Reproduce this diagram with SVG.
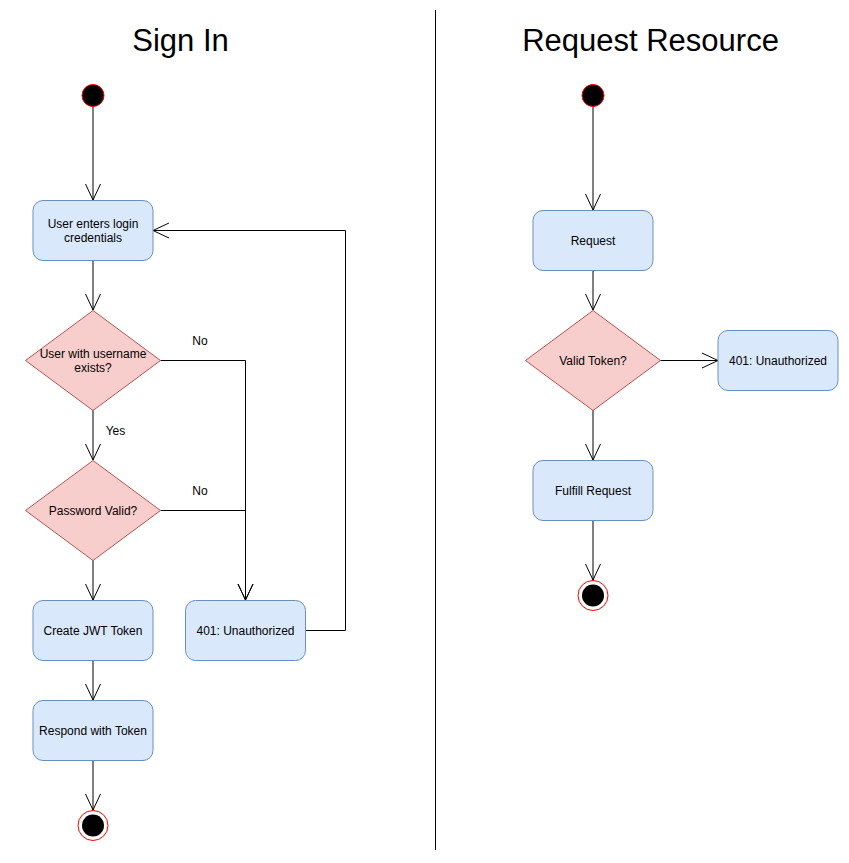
<svg xmlns="http://www.w3.org/2000/svg" width="849" height="863" viewBox="0 0 849 863">
<style>
.t{font-family:"Liberation Sans",Arial,sans-serif;font-size:12px;fill:#000;text-anchor:middle}
.title{font-family:"Liberation Sans",Arial,sans-serif;font-size:31px;fill:#000;text-anchor:middle}
.box{fill:#dae8fc;stroke:#6c8ebf;stroke-width:1}
.dia{fill:#f8cecc;stroke:#b85450;stroke-width:1}
.start{fill:#000;stroke:#ff0000;stroke-width:1}
.endo{fill:#fff;stroke:#ff0000;stroke-width:1}
.c{fill:none;stroke:#000;stroke-width:1}
.a{marker-end:url(#arr)}
</style>
<defs>
<marker id="arr" markerUnits="userSpaceOnUse" markerWidth="20" markerHeight="20" refX="16" refY="8" orient="auto" viewBox="0 0 20 16" overflow="visible">
<path d="M0,0.5 L16,8 L0,15.5" fill="none" stroke="#000" stroke-width="1"/>
</marker>
</defs>
<rect width="849" height="863" fill="#fff"/>
<line x1="435.5" y1="10" x2="435.5" y2="850" stroke="#000" stroke-width="1"/>
<text class="title" x="180.5" y="51">Sign In</text>
<text class="title" x="650.5" y="51">Request Resource</text>

<g id="connectors">
<path class="c a" d="M93,106 V200"/>
<path class="c a" d="M93,260 V310"/>
<path class="c a" d="M93,410 V460"/>
<path class="c a" d="M93,560 V600"/>
<path class="c a" d="M93,660 V700"/>
<path class="c a" d="M93,760 V810"/>
<path class="c a" d="M160.5,360.5 H245.5 V600"/>
<path class="c a" d="M160.5,510.5 H245.5 V600"/>
<path class="c a" d="M305,630.5 H345.5 V230.5 H153"/>
<text class="t" x="200" y="345">No</text>
<text class="t" x="115.5" y="435">Yes</text>
<text class="t" x="200" y="495">No</text>
<path class="c a" d="M593,106 V210"/>
<path class="c a" d="M593,270 V310"/>
<path class="c a" d="M660,360.5 H718"/>
<path class="c a" d="M593,410 V460"/>
<path class="c a" d="M593,520 V580"/>
</g>

<g id="start1"><circle class="start" cx="93" cy="95.5" r="11"/></g>
<g id="login"><rect class="box" x="33" y="200.5" width="120" height="60" rx="10"/><text class="t" x="93" y="228">User enters login</text><text class="t" x="93" y="242">credentials</text></g>
<g id="userExists"><polygon class="dia" points="93,310.5 160.5,360.5 93,410.5 25.5,360.5"/><text class="t" x="93" y="358">User with username</text><text class="t" x="93" y="372">exists?</text></g>
<g id="passValid"><polygon class="dia" points="93,460.5 160.5,510.5 93,560.5 25.5,510.5"/><text class="t" x="93" y="515">Password Valid?</text></g>
<g id="createJwt"><rect class="box" x="33" y="600.5" width="120" height="60" rx="10"/><text class="t" x="93" y="635">Create JWT Token</text></g>
<g id="respond"><rect class="box" x="33" y="700.5" width="120" height="60" rx="10"/><text class="t" x="93" y="735">Respond with Token</text></g>
<g id="unauth1"><rect class="box" x="185.5" y="600.5" width="120" height="60" rx="10"/><text class="t" x="245.5" y="635">401: Unauthorized</text></g>
<g id="end1"><circle class="endo" cx="93" cy="825.5" r="15"/><circle cx="93" cy="825.5" r="11" fill="#000"/></g>

<g id="start2"><circle class="start" cx="593" cy="95.5" r="11"/></g>
<g id="request"><rect class="box" x="533" y="210.5" width="120" height="60" rx="10"/><text class="t" x="593" y="245">Request</text></g>
<g id="validToken"><polygon class="dia" points="593,310.5 660.5,360.5 593,410.5 525.5,360.5"/><text class="t" x="593" y="365">Valid Token?</text></g>
<g id="unauth2"><rect class="box" x="718" y="330.5" width="120" height="60" rx="10"/><text class="t" x="778" y="365">401: Unauthorized</text></g>
<g id="fulfill"><rect class="box" x="533" y="460.5" width="120" height="60" rx="10"/><text class="t" x="593" y="495">Fulfill Request</text></g>
<g id="end2"><circle class="endo" cx="593" cy="595.5" r="15"/><circle cx="593" cy="595.5" r="11" fill="#000"/></g>
</svg>
